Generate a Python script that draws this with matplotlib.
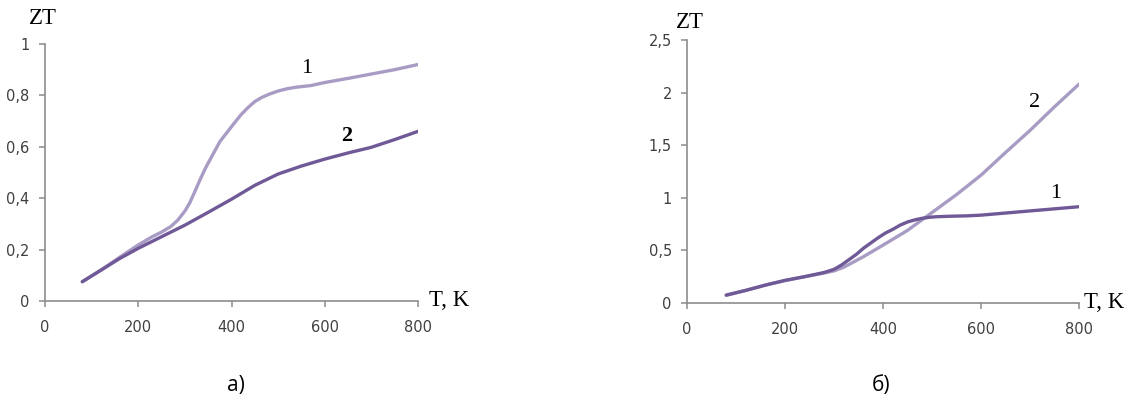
import matplotlib.pyplot as plt
from matplotlib.ticker import FuncFormatter

# panel a)
t_a1 = [80, 120, 160, 200, 230, 250, 270, 285, 300, 310, 320, 332, 345, 360, 375, 390, 405, 420, 435, 450, 465,
        480, 500, 520, 540, 570, 600, 650, 700, 750, 800]
zt_a1 = [0.075, 0.12, 0.17, 0.218, 0.25, 0.268, 0.29, 0.315, 0.35, 0.38, 0.42, 0.47, 0.52, 0.57, 0.62, 0.655,
         0.69, 0.724, 0.752, 0.776, 0.792, 0.804, 0.817, 0.826, 0.832, 0.838, 0.85, 0.866, 0.883, 0.90, 0.92]
t_a2 = [80, 120, 160, 200, 250, 300, 350, 400, 450, 500, 550, 600, 650, 700, 750, 800]
zt_a2 = [0.075, 0.12, 0.165, 0.205, 0.25, 0.295, 0.345, 0.396, 0.45, 0.494, 0.525, 0.552, 0.576, 0.598, 0.628, 0.66]

# panel б)
t_b1 = [80, 120, 160, 200, 240, 280, 300, 315, 330, 345, 360, 375, 390, 405, 420, 435, 450, 465, 480, 495, 510,
        540, 570, 600, 650, 700, 750, 800]
zt_b1 = [0.075, 0.12, 0.17, 0.215, 0.25, 0.29, 0.32, 0.36, 0.41, 0.46, 0.52, 0.57, 0.62, 0.665, 0.70, 0.74, 0.77,
         0.79, 0.805, 0.815, 0.82, 0.825, 0.828, 0.835, 0.855, 0.875, 0.895, 0.915]
t_b2 = [80, 120, 160, 200, 240, 280, 300, 320, 340, 360, 380, 400, 450, 500, 550, 600, 650, 700, 750, 800]
zt_b2 = [0.073, 0.12, 0.17, 0.213, 0.25, 0.285, 0.305, 0.34, 0.39, 0.44, 0.495, 0.55, 0.69, 0.86, 1.03, 1.215,
         1.43, 1.64, 1.865, 2.08]

light = '#a99cc4'
dark = '#6f5997'
serif = 'Liberation Serif'

fig = plt.figure(figsize=(11.25, 4.08), dpi=100)
ax1 = fig.add_axes([0.04, 0.2623, 0.3316, 0.630])
ax2 = fig.add_axes([0.6107, 0.2574, 0.3484, 0.6446])

comma = FuncFormatter(lambda v, p: ('%g' % v).replace('.', ','))

for ax in (ax1, ax2):
    for s in ('top', 'right'):
        ax.spines[s].set_visible(False)
    for s in ('left', 'bottom'):
        ax.spines[s].set_color('#8c8c8c')
        ax.spines[s].set_linewidth(1.2)
    ax.set_xlim(0, 800)
    ax.set_xticks([0, 200, 400, 600, 800])
    ax.tick_params(axis='both', colors='#8c8c8c', length=4, width=1.1, labelcolor='#404040', labelsize=10.5)
    ax.tick_params(axis='x', pad=10)
    ax.tick_params(axis='y', pad=7)
    ax.yaxis.set_major_formatter(comma)

ax1.plot(t_a1, zt_a1, color=light, lw=2.4, solid_capstyle='round', solid_joinstyle='round')
ax1.plot(t_a2, zt_a2, color=dark, lw=2.4, solid_capstyle='round', solid_joinstyle='round')
ax1.set_ylim(0, 1)
ax1.set_yticks([0, 0.2, 0.4, 0.6, 0.8, 1])
ax1.text(562, 0.905, '1', fontsize=16, family=serif, ha='center', va='center')
ax1.text(648, 0.64, '2', fontsize=16, family=serif, ha='center', va='center', fontweight='bold')

ax2.plot(t_b2, zt_b2, color=light, lw=2.4, solid_capstyle='round', solid_joinstyle='round')
ax2.plot(t_b1, zt_b1, color=dark, lw=2.4, solid_capstyle='round', solid_joinstyle='round')
ax2.set_ylim(0, 2.5)
ax2.set_yticks([0, 0.5, 1, 1.5, 2, 2.5])
ax2.text(710, 1.91, '2', fontsize=16, family=serif, ha='center', va='center')
ax2.text(753, 1.045, '1', fontsize=16, family=serif, ha='center', va='center')

# axis titles
fig.text(43 / 1125, 1 - 19 / 408, 'ZT', fontsize=16.5, family=serif, ha='center', va='center')
fig.text(429 / 1125, 1 - 301 / 408, 'T, K', fontsize=16.5, family=serif, ha='left', va='center')
fig.text(690 / 1125, 1 - 22 / 408, 'ZT', fontsize=16.5, family=serif, ha='center', va='center')
fig.text(1084 / 1125, 1 - 303 / 408, 'T, K', fontsize=16.5, family=serif, ha='left', va='center')

# panel captions
fig.text(236 / 1125, 1 - 386 / 408, 'а)', fontsize=15, family='Open Sans', ha='center', va='center')
fig.text(881 / 1125, 1 - 386 / 408, 'б)', fontsize=15, family='Open Sans', ha='center', va='center')

fig.savefig('out.png', dpi=100)
